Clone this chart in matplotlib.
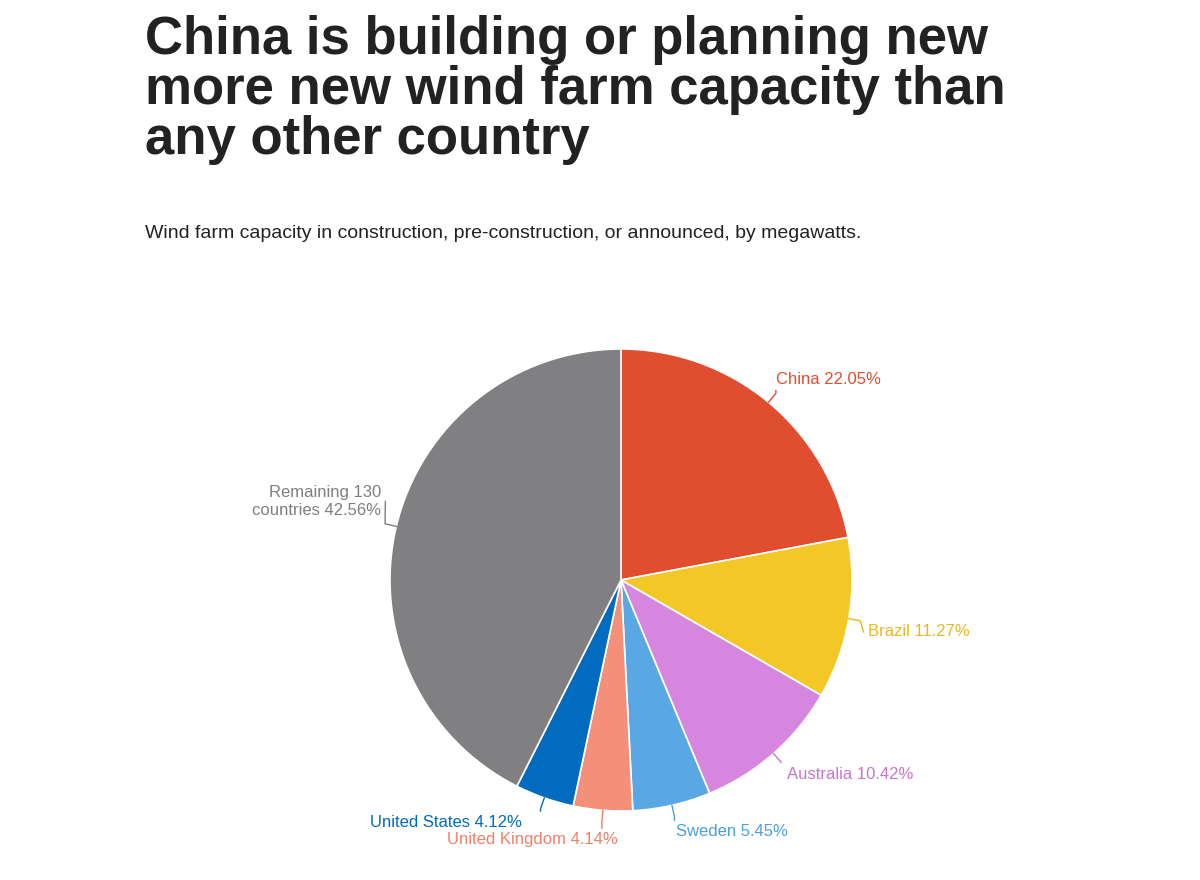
import numpy as np
import matplotlib.pyplot as plt

plt.rcParams['font.family'] = 'Liberation Sans'

countries = ['China', 'Brazil', 'Australia', 'Sweden', 'United Kingdom',
             'United States', 'Remaining 130\ncountries']
shares = [22.05, 11.27, 10.42, 5.45, 4.14, 4.12, 42.56]
colors = ['#E04E2F', '#F3C726', '#D786E0', '#5AA8E3', '#F4907A', '#006BBF', '#808083']
text_colors = ['#E04E2F', '#E8B81E', '#C774D2', '#4C9FDD', '#F08068', '#006BBF', '#7F7F82']

# label anchor (x, y, ha) in pie units, styling only
label_pos = [(0.90, 0.87, 'center'), (1.07, -0.225, 'left'), (0.99, -0.84, 'center'),
             (0.48, -1.09, 'center'), (-0.385, -1.125, 'center'), (-0.76, -1.05, 'center'),
             (-1.04, 0.34, 'right')]

fig = plt.figure(figsize=(12, 8.8), dpi=100)
fig.text(145 / 1200, 1 - 15 / 880,
         'China is building or planning new\nmore new wind farm capacity than\nany other country',
         fontsize=38, fontweight='bold', color='#222222', va='top', linespacing=1.0)
fig.text(145 / 1200, 1 - 233 / 880,
         'Wind farm capacity in construction, pre-construction, or announced, by megawatts.',
         fontsize=14, color='#222222', va='center')

ax = fig.add_axes([390 / 1200, 69 / 880, 462 / 1200, 462 / 880])
wedges, _ = ax.pie(shares, colors=colors, startangle=90, counterclock=False,
                   wedgeprops=dict(edgecolor='white', linewidth=1.2))
ax.set_xlim(-1, 1)
ax.set_ylim(-1, 1)
ax.set_aspect('equal')
ax.axis('off')

for w, name, val, tc, (lx, ly, ha) in zip(wedges, countries, shares, text_colors, label_pos):
    ang = np.deg2rad((w.theta1 + w.theta2) / 2)
    ex, ey = np.cos(ang), np.sin(ang)
    mx, my = 1.05 * ex, 1.05 * ey
    if ha == 'center':
        tx, ty = lx, ly + (0.05 if ly < 0 else -0.05)
        tx = mx
    else:
        tx, ty = lx + (-0.02 if ha == 'left' else 0.02), ly
    ax.plot([ex, mx, tx], [ey, my, ty], color=tc, lw=1, clip_on=False)
    ax.text(lx, ly, f'{name} {val:.2f}%', color=tc, fontsize=12, ha=ha, va='center',
            multialignment='right' if ha == 'right' else 'center')

fig.savefig('out.png', dpi=100)
